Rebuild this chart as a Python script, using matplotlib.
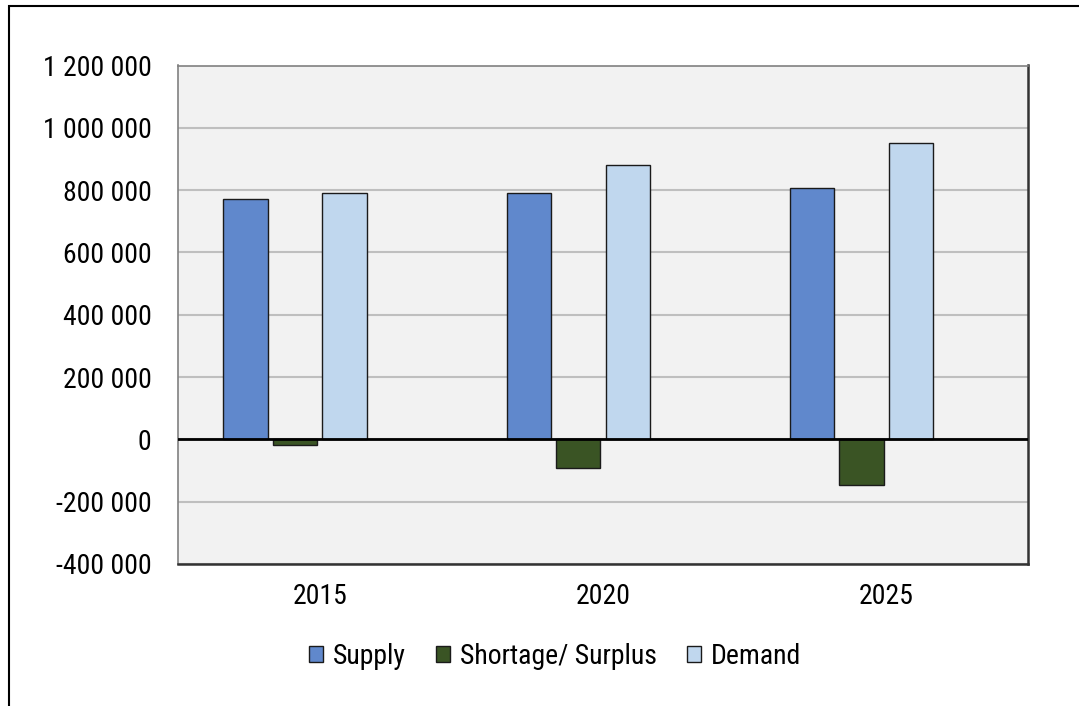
import matplotlib.pyplot as plt
from matplotlib.patches import Rectangle
from matplotlib.ticker import FuncFormatter, MultipleLocator
import numpy as np

# Data
years = ["2015", "2020", "2025"]
supply = [773000, 790000, 806000]
shortage = [-17000, -91000, -147000]
demand = [790000, 881000, 952000]

plt.rcParams['font.family'] = ['Roboto Condensed', 'Liberation Sans', 'DejaVu Sans']

fig = plt.figure(figsize=(10.79, 7.06), dpi=100)
ax = fig.add_axes([178 / 1079, 1 - 564 / 706, 850 / 1079, 498.5 / 706])
ax.set_facecolor('#F2F2F2')

x = np.arange(len(years))
step = 0.1747
width = 0.1567
ax.bar(x - 1.5 * step, supply, width, color='#6088CC', edgecolor='#1a1a1a', linewidth=1, label='Supply', zorder=3)
ax.bar(x - 0.5 * step, shortage, width, color='#3A5424', edgecolor='#1a1a1a', linewidth=1, label='Shortage/ Surplus', zorder=3)
ax.bar(x + 0.5 * step, demand, width, color='#C0D7EE', edgecolor='#1a1a1a', linewidth=1, label='Demand', zorder=3)

ax.set_xlim(-0.5, 2.5)
ax.set_ylim(-400000, 1200000)
ax.yaxis.set_major_locator(MultipleLocator(200000))
ax.yaxis.set_major_formatter(FuncFormatter(lambda v, p: f"{int(v):,}".replace(',', ' ')))
ax.set_xticks(x)
ax.set_xticklabels(years)
ax.tick_params(axis='both', length=0, labelsize=20)
ax.tick_params(axis='y', pad=19)
ax.tick_params(axis='x', pad=14)

ax.grid(axis='y', color='#BFBFBF', linewidth=1.5, zorder=0)
ax.axhline(0, color='black', linewidth=2, zorder=4)

for side in ['top', 'left']:
    ax.spines[side].set_color('#808080')
    ax.spines[side].set_linewidth(1.2)
for side in ['bottom', 'right']:
    ax.spines[side].set_color('#333333')
    ax.spines[side].set_linewidth(1.8)

ax.legend(loc='center', bbox_to_anchor=(555 / 1079, 1 - 656 / 706), bbox_transform=fig.transFigure,
          ncol=3, frameon=False, fontsize=20, handlelength=0.5, handleheight=0.5,
          handletextpad=0.35, columnspacing=1.1)

# outer chart border (only top and left visible within the picture)
fig.patches.append(Rectangle((9 / 1079, -0.1), 1.2, 1.1 - 6 / 706, transform=fig.transFigure,
                             fill=False, edgecolor='black', linewidth=1.5))

fig.savefig('out.png', dpi=100)
